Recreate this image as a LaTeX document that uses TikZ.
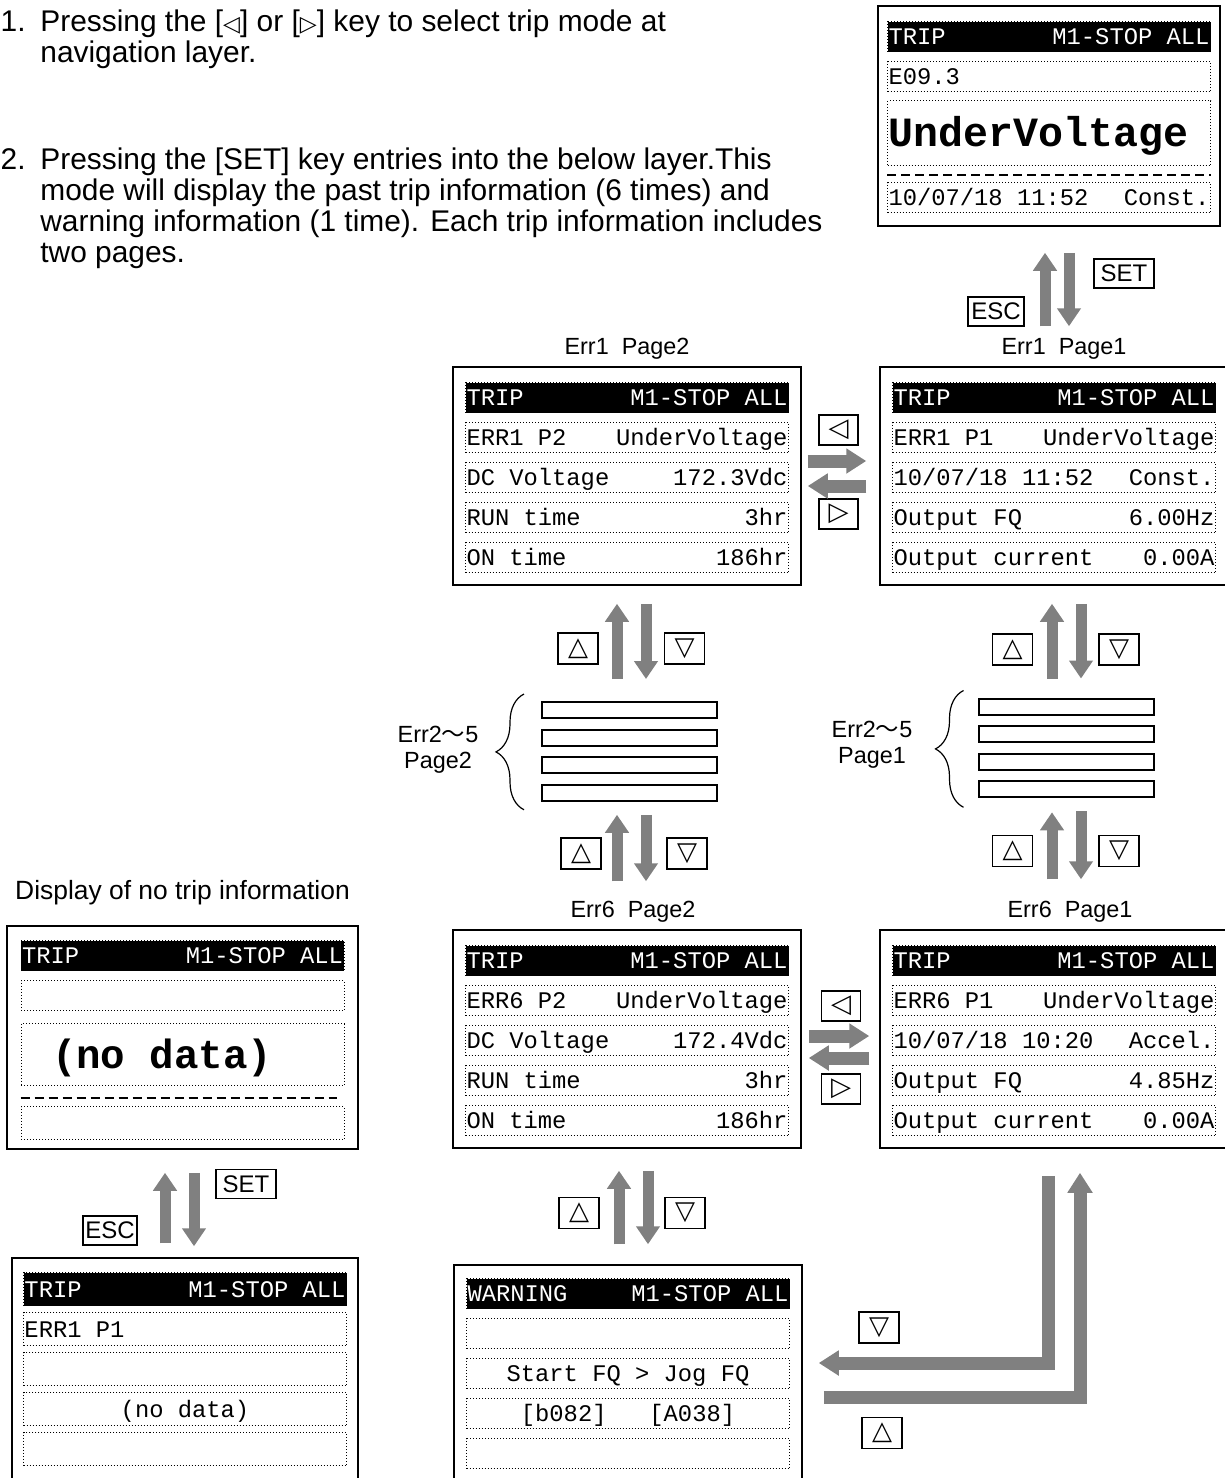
\documentclass[tikz,border=0pt]{standalone}
\usepackage{fontspec}
\setmainfont{Liberation Sans}
\newfontfamily\lcdfont{Liberation Mono}
\newfontfamily\symfont{DejaVu Sans}
\newfontfamily\cjk{Noto Sans CJK SC}
\usetikzlibrary{arrows.meta, positioning, decorations.pathreplacing}
\definecolor{arrowgray}{RGB}{128,128,128}
\protected\def\lcdgap{\spaceskip=0.6em\relax\xspaceskip=0.6em\relax}
\tikzstyle{screen} = [
  rectangle,
  draw=black,
  line width=0.75pt,
  minimum width=174pt,
  minimum height=109pt,
  inner sep=0pt
]
\tikzstyle{titlebar} = [
  rectangle,
  draw=black,
  densely dotted,
  line width=0.5pt,
  fill=black,
  text=white,
  text width=160.5pt,
  inner xsep=0.5pt,
  inner ysep=0pt,
  minimum height=15pt,
  text height=9pt,
  text depth=1pt,
  font=\lcdfont\fontsize{11.9}{13}\selectfont,
  execute at begin node=\lcdgap
]
\tikzstyle{row} = [titlebar, fill=none, text=black]
\tikzstyle{tallrow} = [row, minimum height=16.5pt]
\tikzstyle{bigrow} = [
  row,
  minimum height=32.5pt,
  text height=15pt,
  text depth=1.3pt,
  font=\lcdfont\bfseries\fontsize{20.8}{24}\selectfont
]
\tikzstyle{slot} = [
  rectangle,
  draw=black,
  line width=1pt,
  minimum width=87.5pt,
  minimum height=8pt,
  inner sep=0pt
]
\tikzstyle{key} = [
  rectangle,
  draw=black,
  line width=0.7pt,
  minimum width=20pt,
  minimum height=15.5pt,
  inner sep=0pt,
  font=\symfont\fontsize{13}{15}\selectfont
]
\tikzstyle{sidekey} = [key, minimum width=19.5pt, minimum height=15pt]
\tikzstyle{wordkey} = [key, minimum width=30pt, minimum height=14.5pt, font=\fontsize{12}{14}\selectfont]
\tikzstyle{caption} = [inner sep=0pt, font=\fontsize{11.7}{13}\selectfont]
\tikzstyle{note} = [inner sep=0pt, font=\fontsize{14.95}{15.5}\selectfont]
\tikzstyle{fat} = [draw=arrowgray, line width=5.5pt, -{Triangle[width=11.5pt, length=9pt]}]
\tikzstyle{wide} = [draw=arrowgray, line width=6.5pt, -{Triangle[width=12pt, length=10pt]}]
\tikzstyle{cut} = [draw=black, line width=1.2pt, dash pattern=on 4.5pt off 2.5pt]
\tikzstyle{curly} = [draw=black, line width=0.6pt, decorate, decoration={brace, amplitude=14pt}]

\begin{document}
\begin{tikzpicture}[x=0.5pt, y=-0.5pt, node distance=20pt]
    \useasboundingbox (0,0) rectangle (1225,1478);

    % instructions
    \node (num1) [note, anchor=base east] at (26,31) {1.};
    \node (line1a) [note, anchor=base west] at (40,31) {Pressing the [{\symfont\fontsize{11}{13}\selectfont ◁}] or [{\symfont\fontsize{11}{13}\selectfont ▷}] key to select trip mode at};
    \node (line1b) [note, anchor=base west] at (40,62) {navigation layer.};
    \node (num2) [note, anchor=base east] at (26,169) {2.};
    \node (line2a) [note, anchor=base west] at (40,169) {Pressing the [SET] key entries into the below layer.This};
    \node (line2b) [note, anchor=base west] at (40,200) {mode will display the past trip information (6 times) and};
    \node (line2c) [note, anchor=base west] at (40,231) {warning information (1 time). Each trip information includes};
    \node (line2d) [note, anchor=base west] at (40,262) {two pages.};

    % trip screen
    \node (trip) [screen, minimum width=171pt, minimum height=110pt] at (1049,116) {};
    \node (trip-t) [titlebar, below=8pt of trip.north] {TRIP\hfill M1-STOP ALL};
    \node (trip-r1) [row, below of=trip-t] {E09.3};
    \node (trip-big) [bigrow, below=4pt of trip-r1] {UnderVoltage};
    \node (trip-r2) [row, below=8pt of trip-big] {10/07/18 11:52\hfill Const.};
    \draw [cut] ([yshift=-4.5pt]trip-big.south west) -- ([yshift=-4.5pt]trip-big.south east);

    % err1 page2
    \node (e1p2) [screen] at (627,476) {};
    \node (e1p2-cap) [caption, above=3.5pt of e1p2] {Err1\ \ Page2};
    \node (e1p2-t) [titlebar, below=8pt of e1p2.north] {TRIP\hfill M1-STOP ALL};
    \node (e1p2-r1) [row, below of=e1p2-t] {ERR1 P2\hfill UnderVoltage};
    \node (e1p2-r2) [row, below of=e1p2-r1] {DC Voltage\hfill 172.3Vdc};
    \node (e1p2-r3) [row, below of=e1p2-r2] {RUN time\hfill 3hr};
    \node (e1p2-r4) [row, below of=e1p2-r3] {ON time\hfill 186hr};

    % err1 page1
    \node (e1p1) [screen] at (1054,476) {};
    \node (e1p1-cap) [caption, above=3.5pt of e1p1, xshift=5pt] {Err1\ \ Page1};
    \node (e1p1-t) [titlebar, below=8pt of e1p1.north] {TRIP\hfill M1-STOP ALL};
    \node (e1p1-r1) [row, below of=e1p1-t] {ERR1 P1\hfill UnderVoltage};
    \node (e1p1-r2) [row, below of=e1p1-r1] {10/07/18 11:52\hfill Const.};
    \node (e1p1-r3) [row, below of=e1p1-r2] {Output FQ\hfill 6.00Hz};
    \node (e1p1-r4) [row, below of=e1p1-r3] {Output current\hfill 0.00A};

    % err2-5
    \node (stk2-a) [slot] at (629.5,710) {};
    \node (stk2-b) [slot, below=4.8pt of stk2-a] {};
    \node (stk2-c) [slot, below=4.8pt of stk2-b] {};
    \node (stk2-d) [slot, below=4.8pt of stk2-c] {};
    \draw [curly] ([xshift=-8.5pt,yshift=-4pt]stk2-d.south west) -- ([xshift=-8.5pt,yshift=3.5pt]stk2-a.north west);
    \node (stk2-cap) [caption, align=center] at (438,750) {Err2{\cjk ～}5\\Page2};
    \node (stk1-a) [slot] at (1066,706.5) {};
    \node (stk1-b) [slot, below=4.8pt of stk1-a] {};
    \node (stk1-c) [slot, below=4.8pt of stk1-b] {};
    \node (stk1-d) [slot, below=4.8pt of stk1-c] {};
    \draw [curly] ([xshift=-7pt,yshift=-4.5pt]stk1-d.south west) -- ([xshift=-7pt,yshift=3.5pt]stk1-a.north west);
    \node (stk1-cap) [caption, align=center] at (872,745) {Err2{\cjk ～}5\\Page1};

    % err6 page2
    \node (e6p2) [screen] at (627,1039) {};
    \node (e6p2-cap) [caption, above=3.5pt of e6p2, xshift=3pt] {Err6\ \ Page2};
    \node (e6p2-t) [titlebar, below=8pt of e6p2.north] {TRIP\hfill M1-STOP ALL};
    \node (e6p2-r1) [row, below of=e6p2-t] {ERR6 P2\hfill UnderVoltage};
    \node (e6p2-r2) [row, below of=e6p2-r1] {DC Voltage\hfill 172.4Vdc};
    \node (e6p2-r3) [row, below of=e6p2-r2] {RUN time\hfill 3hr};
    \node (e6p2-r4) [row, below of=e6p2-r3] {ON time\hfill 186hr};

    % err6 page1
    \node (e6p1) [screen] at (1054,1039) {};
    \node (e6p1-cap) [caption, above=3.5pt of e6p1, xshift=8pt] {Err6\ \ Page1};
    \node (e6p1-t) [titlebar, below=8pt of e6p1.north] {TRIP\hfill M1-STOP ALL};
    \node (e6p1-r1) [row, below of=e6p1-t] {ERR6 P1\hfill UnderVoltage};
    \node (e6p1-r2) [row, below of=e6p1-r1] {10/07/18 10:20\hfill Accel.};
    \node (e6p1-r3) [row, below of=e6p1-r2] {Output FQ\hfill 4.85Hz};
    \node (e6p1-r4) [row, below of=e6p1-r3] {Output current\hfill 0.00A};

    % warning
    \node (warn) [screen] at (628,1374) {};
    \node (warn-t) [titlebar, below=7pt of warn.north] {WARNING\hfill M1-STOP ALL};
    \node (warn-r1) [row, below of=warn-t] {};
    \node (warn-r2) [row, align=center, below of=warn-r1] {Start FQ > Jog FQ};
    \node (warn-r3) [row, align=center, below of=warn-r2] {[b082]\ \ \ [A038]};
    \node (warn-r4) [row, below of=warn-r3] {};

    % no trip information
    \node (nodata) [screen, minimum width=175.5pt, minimum height=111.5pt] at (182.5,1037.5) {};
    \node (nodata-cap) [caption, font=\fontsize{13.2}{15}\selectfont, above=10pt of nodata] {Display of no trip information};
    \node (nodata-t) [titlebar, below=7.5pt of nodata.north] {TRIP\hfill M1-STOP ALL};
    \node (nodata-r1) [row, below of=nodata-t] {};
    \node (nodata-big) [bigrow, minimum height=31pt, font=\lcdfont\bfseries\fontsize{20.4}{24}\selectfont, below=6pt of nodata-r1] {\hspace*{15pt}(no data)};
    \node (nodata-r2) [tallrow, below=10pt of nodata-big] {};
    \draw [cut] ([yshift=-6pt]nodata-big.south west) -- ([yshift=-6pt,xshift=-4pt]nodata-big.south east);

    \node (blank) [screen, minimum width=173pt, minimum height=111pt] at (185,1369) {};
    \node (blank-t) [titlebar, minimum height=16.5pt, below=7.5pt of blank.north] {TRIP\hfill M1-STOP ALL};
    \node (blank-r1) [tallrow, below of=blank-t] {ERR1 P1};
    \node (blank-r2) [tallrow, below of=blank-r1] {};
    \node (blank-r3) [tallrow, align=center, below of=blank-r2] {(no data)};
    \node (blank-r4) [tallrow, below of=blank-r3] {};

    % keys
    \node (k-set1) [wordkey] at (1124,273.5) {SET};
    \node (k-esc1) [wordkey, minimum width=28pt] at (996,311.5) {ESC};
    \node (k-set2) [wordkey] at (246,1184) {SET};
    \node (k-esc2) [wordkey, minimum width=27pt] at (110,1230.5) {ESC};
    \node (k-left1) [sidekey] at (838.5,430) {◁};
    \node (k-right1) [sidekey] at (838.5,514) {▷};
    \node (k-left6) [sidekey] at (841,1006) {◁};
    \node (k-right6) [sidekey] at (841,1089) {▷};
    \node (k-up2a) [key] at (578,648.5) {△};
    \node (k-dn2a) [key] at (684.5,648.5) {▽};
    \node (k-up2b) [key] at (581,853.5) {△};
    \node (k-dn2b) [key] at (687,853.5) {▽};
    \node (k-up2c) [key] at (579,1213) {△};
    \node (k-dn2c) [key] at (685,1213) {▽};
    \node (k-up1a) [key] at (1012.5,649.5) {△};
    \node (k-dn1a) [key] at (1119,649.5) {▽};
    \node (k-up1b) [key] at (1012.5,851) {△};
    \node (k-dn1b) [key] at (1119,851) {▽};
    \node (k-dnw) [key] at (879,1327.5) {▽};
    \node (k-upw) [key] at (882,1433) {△};

    % arrows
    \draw [fat, shorten <=20pt, shorten >=13pt] ([xshift=-4.5pt]e1p1.north) -- ([xshift=-4.5pt]e1p1.north |- trip.south);
    \draw [fat, shorten <=13pt, shorten >=20pt] ([xshift=10pt]trip.south) -- ([xshift=10pt]trip.south |- e1p1.north);
    \draw [fat, shorten <=7pt, shorten >=11.5pt] ([xshift=-10pt]blank.north) -- ([xshift=-10pt]blank.north |- nodata.south);
    \draw [fat, shorten <=11.5pt, shorten >=5.5pt] ([xshift=4.5pt]blank.north |- nodata.south) -- ([xshift=4.5pt]blank.north);
    \draw [fat, shorten <=11pt, shorten >=9pt] ([xshift=-6.25pt]stk2-a.north) -- ([xshift=-6.25pt]stk2-a.north |- e1p2.south);
    \draw [fat, shorten <=9pt, shorten >=11pt] ([xshift=8.25pt]stk2-a.north |- e1p2.south) -- ([xshift=8.25pt]stk2-a.north);
    \draw [fat, shorten <=24pt, shorten >=6.5pt] ([xshift=-6.25pt]stk2-d.south |- e6p2.north) -- ([xshift=-6.25pt]stk2-d.south);
    \draw [fat, shorten <=6.5pt, shorten >=24pt] ([xshift=8.25pt]stk2-d.south) -- ([xshift=8.25pt]stk2-d.south |- e6p2.north);
    \draw [fat, shorten <=9.5pt, shorten >=9pt] ([xshift=-7pt]stk1-a.north) -- ([xshift=-7pt]stk1-a.north |- e1p1.south);
    \draw [fat, shorten <=9pt, shorten >=9.5pt] ([xshift=7.5pt]stk1-a.north |- e1p1.south) -- ([xshift=7.5pt]stk1-a.north);
    \draw [fat, shorten <=25pt, shorten >=7pt] ([xshift=-7pt]stk1-d.south |- e6p1.north) -- ([xshift=-7pt]stk1-d.south);
    \draw [fat, shorten <=6.5pt, shorten >=25pt] ([xshift=7.5pt]stk1-d.south) -- ([xshift=7.5pt]stk1-d.south |- e6p1.north);
    \draw [fat, shorten <=10pt, shorten >=11pt] ([xshift=-4.5pt]warn.north) -- ([xshift=-4.5pt]warn.north |- e6p2.south);
    \draw [fat, shorten <=11pt, shorten >=10pt] ([xshift=10pt]warn.north |- e6p2.south) -- ([xshift=10pt]warn.north);
    \draw [wide, shorten <=3pt, shorten >=6.5pt] ([yshift=7.5pt]e1p2.east) -- ([yshift=7.5pt]e1p2.east -| e1p1.west);
    \draw [wide, shorten <=6.5pt, shorten >=3pt] ([yshift=-5pt]e1p1.west) -- ([yshift=-5pt]e1p1.west -| e1p2.east);
    \draw [wide, shorten <=3.5pt, shorten >=5pt] ([yshift=1.5pt]e6p2.east) -- ([yshift=1.5pt]e6p2.east -| e6p1.west);
    \draw [wide, shorten <=5pt, shorten >=3.5pt] ([yshift=-9.5pt]e6p1.west) -- ([yshift=-9.5pt]e6p1.west -| e6p2.east);
    \draw [wide, shorten <=13.5pt, shorten >=8pt] ([xshift=-3pt]e6p1.south) |- ([yshift=5.5pt]warn.east);
    \draw [wide, shorten <=10.5pt, shorten >=12pt] ([yshift=-11.5pt]warn.east) -| ([xshift=13pt]e6p1.south);
\end{tikzpicture}
\end{document}
